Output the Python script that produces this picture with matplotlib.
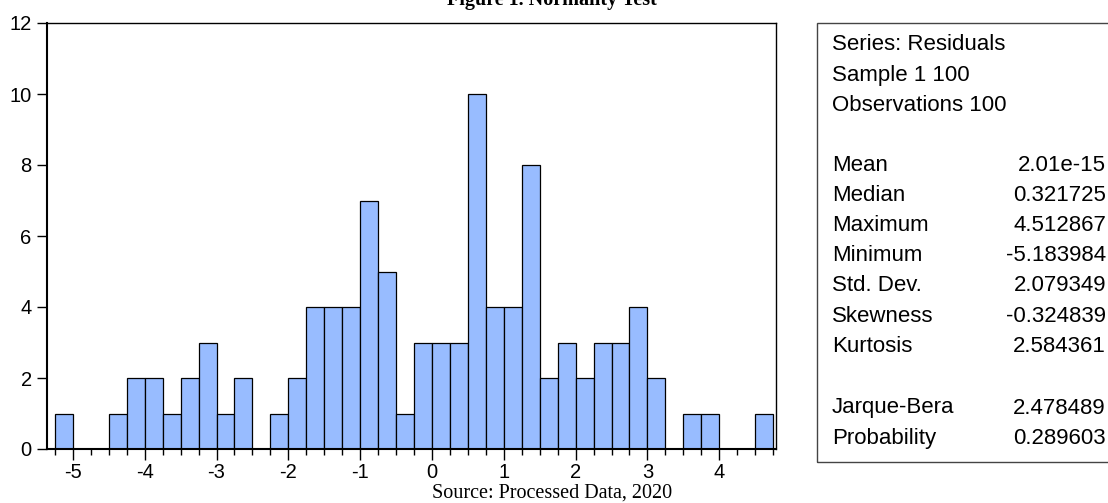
import matplotlib
import matplotlib.pyplot as plt
import numpy as np
from matplotlib.patches import Rectangle
matplotlib.use('Agg')
plt.rcParams['font.family'] = 'Liberation Sans'
plt.rcParams['axes.unicode_minus'] = False

# histogram of residuals, bin width 0.25 starting at -5.25
bin_edges = np.arange(-5.25, 4.76, 0.25)
counts = [1, 0, 0, 1, 2, 2, 1, 2, 3, 1, 2, 0, 1, 2, 4, 4, 4, 7, 5, 1,
          3, 3, 3, 10, 4, 4, 8, 2, 3, 2, 3, 3, 4, 2, 0, 1, 1, 0, 0, 1]

stat_header = ['Series: Residuals', 'Sample 1 100', 'Observations 100']
stat_names = ['Mean', 'Median', 'Maximum', 'Minimum', 'Std. Dev.', 'Skewness', 'Kurtosis']
stat_values = ['2.01e-15', '0.321725', '4.512867', '-5.183984', '2.079349', '-0.324839', '2.584361']
test_names = ['Jarque-Bera', 'Probability']
test_values = ['2.478489', '0.289603']

W, H = 1108, 503
fig = plt.figure(figsize=(W / 100, H / 100), dpi=100)
ax = fig.add_axes([47 / W, 1 - 449 / H, (776 - 47) / W, (449 - 23) / H])

ax.bar(bin_edges[:-1], counts, width=0.25, align='edge', color='#98BCFF',
       edgecolor='black', linewidth=0.9)

ax.set_xlim(-5.36, 4.79)
ax.set_ylim(0, 12)
ax.set_yticks(range(0, 13, 2))
ax.set_xticks(range(-5, 5))
ax.set_xticks(bin_edges, minor=True)
ax.tick_params(axis='x', which='major', length=8, width=1, direction='out', pad=2, labelsize=14.5)
ax.tick_params(axis='x', which='minor', length=4, width=1, direction='out')
ax.tick_params(axis='y', length=7, width=1, direction='out', pad=4, labelsize=14.5)
ax.spines['left'].set_linewidth(1.5)
ax.spines['bottom'].set_linewidth(1.5)
ax.spines['top'].set_linewidth(1)
ax.spines['right'].set_linewidth(1)

# title is cut off at the top of the image
fig.text(552 / W, 1 - 5 / H, 'Figure 1. Normality Test', ha='center', va='baseline',
         fontsize=14.5, fontweight='bold', family='Liberation Serif')
fig.text(552 / W, 1 - 493 / H, 'Source: Processed Data, 2020', ha='center', va='center',
         fontsize=14.5, family='Liberation Serif')

# statistics box
fig.patches.append(Rectangle((817 / W, 1 - 462 / H), 0.4, (462 - 23) / H,
                             transform=fig.transFigure, fill=False,
                             edgecolor='#444444', linewidth=1))
lx, rx = 832 / W, 1106 / W
row_h = 30.2
fs = 16
for i, s in enumerate(stat_header):
    fig.text(lx, 1 - (45 + i * row_h) / H, s, ha='left', va='center', fontsize=fs)
for i, (n, v) in enumerate(zip(stat_names, stat_values)):
    yy = 1 - (165 + i * row_h) / H
    fig.text(lx, yy, n, ha='left', va='center', fontsize=fs)
    fig.text(rx, yy, v, ha='right', va='center', fontsize=fs)
for i, (n, v) in enumerate(zip(test_names, test_values)):
    yy = 1 - (408 + i * row_h) / H
    fig.text(lx, yy, n, ha='left', va='center', fontsize=fs)
    fig.text(rx, yy, v, ha='right', va='center', fontsize=fs)

fig.savefig('out.png', dpi=100)
plt.close()
